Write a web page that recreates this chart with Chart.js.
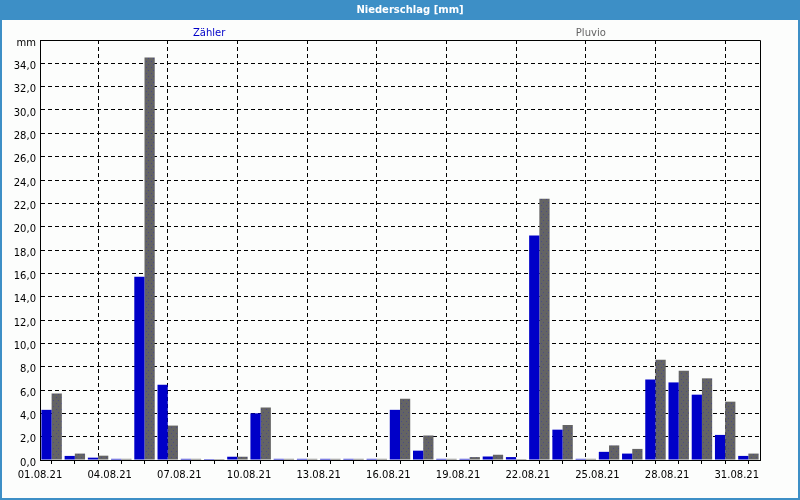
<!DOCTYPE html>
<html>
<head>
<meta charset="utf-8">
<script src="https://cdn.jsdelivr.net/npm/chart.js@4/dist/chart.umd.min.js"></script>
<style>
  html, body { margin: 0; padding: 0; background: #fcfdfc; }
  #wrap { width: 800px; height: 500px; position: relative; }
</style>
</head>
<body>
<div id="wrap"><canvas id="c" width="800" height="500"></canvas></div>
<script>
// ---- data ----
const chartTitle = 'Niederschlag [mm]';
const unitLabel = 'mm';
const dates = ['01.08.21','02.08.21','03.08.21','04.08.21','05.08.21','06.08.21','07.08.21','08.08.21',
  '09.08.21','10.08.21','11.08.21','12.08.21','13.08.21','14.08.21','15.08.21','16.08.21','17.08.21',
  '18.08.21','19.08.21','20.08.21','21.08.21','22.08.21','23.08.21','24.08.21','25.08.21','26.08.21',
  '27.08.21','28.08.21','29.08.21','30.08.21','31.08.21'];
const seriesNames = ['Zähler', 'Pluvio'];
const zaehler = [4.3, 0.35, 0.2, 0.1, 15.7, 6.45, 0.1, 0.08, 0.28, 4.0, 0.1, 0.1, 0.1, 0.1, 0.1,
  4.3, 0.8, 0.1, 0.1, 0.3, 0.25, 19.25, 2.6, 0.1, 0.7, 0.55, 6.9, 6.65, 5.6, 2.15, 0.35];
const pluvio = [5.7, 0.55, 0.37, 0.1, 34.5, 2.95, 0.1, 0.08, 0.28, 4.5, 0.1, 0.1, 0.1, 0.1, 0.1,
  5.25, 2.1, 0.1, 0.25, 0.45, 0.08, 22.4, 3.0, 0.1, 1.25, 0.95, 8.6, 7.65, 7.0, 5.0, 0.55];
const yMax = 36;
const yStep = 2;
const labelEvery = 3;

// ---- styles ----
const BLUE = '#0000c8';
const GREY = '#646464';
const FRAME = '#3d8fc6';
const BG = '#fcfdfc';

function makeDotPattern() {
  const p = document.createElement('canvas');
  p.width = 5; p.height = 6;
  const g = p.getContext('2d');
  g.fillStyle = GREY; g.fillRect(0, 0, 5, 6);
  g.fillStyle = '#4a4a86';
  g.fillRect(1, 1, 1, 1);
  g.fillRect(3, 4, 1, 1);
  return g.createPattern(p, 'repeat');
}
const greyPattern = makeDotPattern();

Chart.defaults.font.family = '"DejaVu Sans", Verdana, sans-serif';
Chart.defaults.font.size = 10;
Chart.defaults.color = '#000';

const toPoints = arr => arr.map((v, i) => ({ x: i + 0.5, y: v }));

const framePlugin = {
  id: 'frame',
  beforeDraw(chart) {
    const ctx = chart.ctx;
    ctx.save();
    ctx.fillStyle = BG;
    ctx.fillRect(0, 0, chart.width, chart.height);
    ctx.fillStyle = FRAME;
    ctx.fillRect(0, 0, chart.width, 20);
    ctx.restore();
  },
  afterDraw(chart) {
    const ctx = chart.ctx;
    const ca = chart.chartArea;
    ctx.save();
    // outer frame
    ctx.strokeStyle = FRAME;
    ctx.lineWidth = 2;
    ctx.strokeRect(1, 1, chart.width - 2, chart.height - 2);
    // title
    ctx.fillStyle = '#ffffff';
    ctx.font = 'bold 10px "DejaVu Sans"';
    ctx.textAlign = 'center';
    ctx.textBaseline = 'middle';
    ctx.fillText(chartTitle, chart.width / 2 + 10, 10);
    // legend texts
    ctx.font = '10px "DejaVu Sans"';
    const fr = [0.235, 0.765];
    chart.data.datasets.forEach((ds, i) => {
      ctx.fillStyle = ds.legendColor;
      ctx.fillText(ds.label, ca.left + (ca.right - ca.left) * fr[i], ca.top - 7);
    });
    // plot box top and right
    ctx.strokeStyle = '#000';
    ctx.lineWidth = 1;
    ctx.beginPath();
    ctx.moveTo(Math.round(ca.left), Math.round(ca.top) + 0.5);
    ctx.lineTo(Math.round(ca.right) + 0.5, Math.round(ca.top) + 0.5);
    ctx.lineTo(Math.round(ca.right) + 0.5, Math.round(ca.bottom) + 1);
    ctx.stroke();
    ctx.restore();
  }
};

new Chart(document.getElementById('c'), {
  type: 'bar',
  data: {
    datasets: [
      { label: seriesNames[0], data: toPoints(zaehler), backgroundColor: BLUE, legendColor: BLUE,
        borderWidth: 0, categoryPercentage: 0.88, barPercentage: 1.0 },
      { label: seriesNames[1], data: toPoints(pluvio), backgroundColor: greyPattern, legendColor: GREY,
        borderWidth: 0, categoryPercentage: 0.88, barPercentage: 1.0 }
    ]
  },
  options: {
    responsive: false,
    animation: false,
    layout: { padding: { top: 40, right: 40, bottom: 0, left: 0 } },
    plugins: {
      legend: { display: false },
      title: { display: false },
      tooltip: { enabled: false }
    },
    scales: {
      x: {
        type: 'linear',
        min: 0,
        max: dates.length,
        offset: false,
        afterFit(s) { s.height = 40; },
        ticks: {
          stepSize: 1,
          autoSkip: false,
          maxRotation: 0,
          padding: 5,
          callback: v => (v % labelEvery === 0 && dates[v]) ? dates[v] : ''
        },
        grid: {
          drawTicks: true,
          tickLength: 4,
          tickColor: '#000',
          color: c => (c.tick && c.tick.value % labelEvery === 0) ? '#000' : 'rgba(0,0,0,0)',
          lineWidth: 1
        },
        border: { display: true, color: '#000', width: 1, dash: [4, 3] }
      },
      y: {
        min: 0,
        max: yMax,
        afterFit(s) { s.width = 40; },
        ticks: {
          stepSize: yStep,
          padding: 4,
          labelOffset: 3,
          callback: v => v === yMax ? unitLabel : v.toFixed(1).replace('.', ',')
        },
        grid: {
          drawTicks: false,
          color: '#000',
          lineWidth: 1
        },
        border: { display: true, color: '#000', width: 1, dash: [4, 3] }
      }
    }
  },
  plugins: [framePlugin]
});
</script>
</body>
</html>
